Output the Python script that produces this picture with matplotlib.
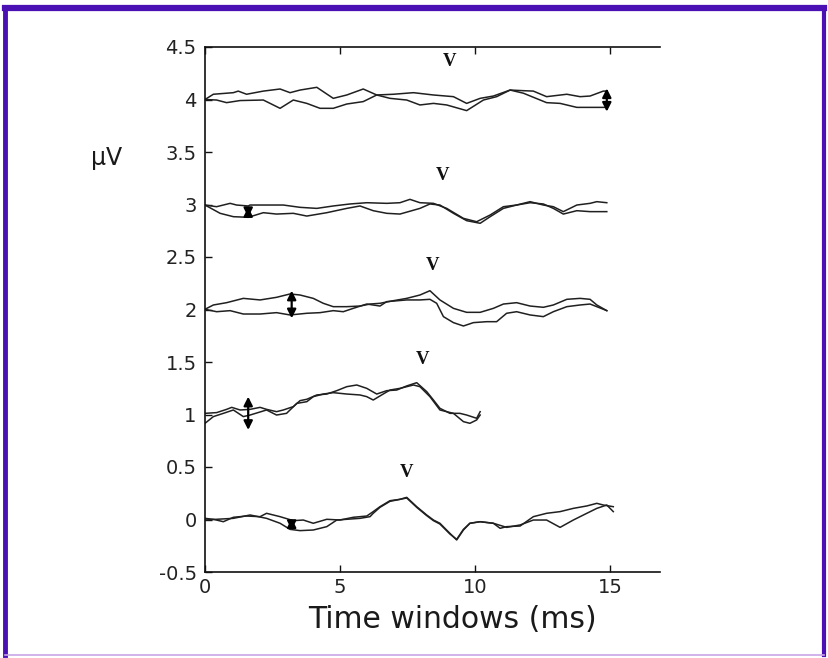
import matplotlib
matplotlib.use("Agg")
import matplotlib.pyplot as plt
from matplotlib.lines import Line2D

# ---------------- data ----------------
# trace at 4 uV
t4a_x = [0.0, 0.31, 1.05, 1.23, 1.54, 2.16, 2.78, 3.15, 3.52, 4.14, 4.75, 5.25, 5.86, 6.36, 6.98, 7.72,
         8.46, 9.20, 9.69, 10.19, 10.68, 11.30, 11.79, 12.16, 12.65, 13.40, 13.89, 14.26, 14.75, 14.88]
t4a_y = [4.00, 4.05, 4.065, 4.08, 4.05, 4.08, 4.10, 4.065, 4.09, 4.116, 4.011, 4.043, 4.10, 4.043, 4.05, 4.065,
         4.043, 4.027, 3.963, 4.011, 4.033, 4.09, 4.084, 4.08, 4.027, 4.05, 4.027, 4.033, 4.08, 4.08]
t4b_x = [0.0, 0.43, 0.80, 1.30, 2.16, 2.78, 3.27, 3.77, 4.26, 4.75, 5.25, 5.86, 6.36, 6.85, 7.47, 7.96,
         8.46, 8.95, 9.69, 10.31, 10.80, 11.30, 11.79, 12.65, 13.15, 13.77, 14.26, 14.75, 14.88]
t4b_y = [4.00, 3.995, 3.97, 3.99, 3.995, 3.916, 3.995, 3.963, 3.916, 3.916, 3.957, 3.98, 4.043, 4.011, 3.995, 3.948,
         3.963, 3.948, 3.894, 3.995, 4.027, 4.09, 4.06, 3.97, 3.963, 3.925, 3.925, 3.925, 3.925]

# trace at 3 uV
t3a_x = [0.0, 0.43, 0.93, 1.17, 1.60, 1.67, 2.90, 3.52, 4.14, 4.75, 5.37, 5.99, 6.73, 7.22, 7.59, 7.96,
         8.46, 8.95, 9.57, 10.06, 10.56, 11.05, 11.54, 12.04, 12.53, 12.90, 13.27, 13.77, 14.26, 14.51, 14.88]
t3a_y = [2.995, 2.979, 3.011, 2.995, 2.986, 2.995, 2.995, 2.973, 2.963, 2.986, 3.005, 3.017, 3.011, 3.017, 3.049, 3.017,
         3.011, 2.963, 2.868, 2.836, 2.900, 2.979, 2.995, 3.027, 2.995, 2.979, 2.932, 2.995, 3.011, 3.027, 3.017]
t3b_x = [0.0, 0.56, 1.05, 1.60, 2.16, 2.65, 3.27, 3.77, 4.51, 5.25, 5.74, 6.23, 6.73, 7.22, 7.96, 8.33,
         8.70, 9.20, 9.69, 10.19, 10.56, 11.05, 11.54, 12.04, 12.53, 12.90, 13.27, 13.77, 14.26, 14.88]
t3b_y = [2.995, 2.916, 2.884, 2.878, 2.922, 2.909, 2.916, 2.890, 2.922, 2.963, 2.986, 2.941, 2.916, 2.909, 2.963, 3.005,
         2.995, 2.916, 2.846, 2.821, 2.884, 2.963, 2.995, 3.017, 3.005, 2.963, 2.909, 2.941, 2.932, 2.932]

# trace at 2 uV
t2a_x = [0.0, 0.31, 0.80, 1.42, 2.04, 2.65, 3.15, 3.52, 4.01, 4.38, 4.75, 5.25, 5.74, 6.11, 6.48, 6.98, 7.47,
         7.96, 8.33, 8.70, 9.20, 9.69, 10.19, 10.68, 11.05, 11.54, 12.04, 12.53, 12.90, 13.40, 13.89, 14.26,
         14.51, 14.88]
t2a_y = [2.002, 2.043, 2.065, 2.106, 2.091, 2.116, 2.148, 2.138, 2.106, 2.059, 2.027, 2.027, 2.033, 2.052, 2.059,
         2.084, 2.106, 2.138, 2.179, 2.091, 2.011, 1.973, 1.973, 2.011, 2.052, 2.065, 2.033, 2.021, 2.043, 2.097,
         2.106, 2.097, 2.043, 1.989]
t2b_x = [0.0, 0.43, 0.93, 1.42, 2.04, 2.65, 3.15, 3.77, 4.26, 4.75, 5.12, 5.49, 5.99, 6.48, 6.73, 7.47, 7.96,
         8.33, 8.58, 8.83, 9.20, 9.57, 9.94, 10.43, 10.80, 11.17, 11.54, 12.04, 12.53, 12.90, 13.40, 13.89,
         14.26, 14.51, 14.88]
t2b_y = [2.002, 1.979, 1.989, 1.957, 1.957, 1.970, 1.948, 1.964, 1.970, 1.989, 1.979, 2.011, 2.052, 2.033, 2.075,
         2.091, 2.091, 2.097, 2.059, 1.932, 1.875, 1.843, 1.875, 1.884, 1.884, 1.964, 1.979, 1.948, 1.932, 1.979,
         2.027, 2.043, 2.052, 2.027, 1.989]

# trace at 1 uV
t1a_x = [0.0, 0.43, 0.80, 0.99, 1.30, 1.67, 2.04, 2.28, 2.65, 2.90, 3.27, 3.52, 3.77, 4.14, 4.51, 4.88, 5.25,
         5.62, 5.99, 6.36, 6.73, 7.10, 7.47, 7.84, 8.21, 8.46, 8.70, 9.07, 9.44, 9.69, 10.06, 10.19]
t1a_y = [1.011, 1.018, 1.049, 1.068, 1.043, 1.049, 1.068, 1.049, 1.027, 1.043, 1.075, 1.132, 1.145, 1.186, 1.195,
         1.227, 1.265, 1.281, 1.249, 1.195, 1.227, 1.233, 1.272, 1.303, 1.218, 1.138, 1.059, 1.011, 1.011, 0.995,
         0.964, 1.027]
t1b_x = [0.0, 0.31, 0.68, 1.05, 1.42, 1.67, 2.28, 2.65, 3.02, 3.40, 3.77, 4.01, 4.38, 4.75, 5.25, 5.74, 5.99,
         6.23, 6.54, 6.85, 7.22, 7.72, 7.96, 8.33, 8.70, 9.20, 9.57, 9.81, 10.06, 10.19]
t1b_y = [0.916, 0.980, 1.011, 1.043, 0.980, 0.995, 1.043, 0.995, 1.011, 1.106, 1.122, 1.170, 1.195, 1.208, 1.195,
         1.186, 1.170, 1.138, 1.186, 1.233, 1.249, 1.281, 1.265, 1.170, 1.043, 1.011, 0.932, 0.916, 0.948, 0.995]

# trace at 0 uV
t0a_x = [0.0, 0.31, 0.68, 1.05, 1.54, 2.04, 2.28, 2.78, 3.27, 3.64, 4.01, 4.51, 5.00, 5.49, 5.99, 6.23, 6.48,
         6.85, 7.22, 7.47, 7.84, 8.21, 8.46, 8.70, 9.07, 9.32, 9.57, 9.81, 10.19, 10.68, 10.93, 11.17, 11.67,
         12.16, 12.65, 13.15, 13.64, 14.14, 14.51, 14.75, 15.12]
t0a_y = [0.011, 0.002, -0.021, 0.021, 0.033, 0.027, 0.059, 0.027, -0.011, -0.005, -0.036, 0.002, -0.005, 0.021,
         0.033, 0.075, 0.122, 0.179, 0.192, 0.211, 0.122, 0.043, -0.005, -0.036, -0.132, -0.195, -0.100, -0.036,
         -0.021, -0.036, -0.084, -0.068, -0.062, 0.027, 0.059, 0.075, 0.106, 0.129, 0.154, 0.138, 0.122]
t0b_x = [0.0, 0.43, 1.05, 1.67, 2.28, 2.78, 3.15, 3.52, 4.01, 4.51, 4.88, 5.25, 5.74, 6.11, 6.23, 6.48, 6.85,
         7.22, 7.47, 7.84, 8.21, 8.46, 8.70, 9.07, 9.32, 9.57, 9.81, 10.19, 10.68, 11.17, 11.67, 12.16, 12.65,
         13.15, 13.64, 14.14, 14.51, 14.88, 15.12]
t0b_y = [-0.005, 0.002, 0.011, 0.043, 0.011, -0.036, -0.094, -0.106, -0.100, -0.068, -0.005, 0.002, 0.011, 0.027,
         0.059, 0.116, 0.173, 0.192, 0.205, 0.116, 0.037, -0.011, -0.043, -0.138, -0.189, -0.094, -0.036, -0.021,
         -0.036, -0.075, -0.052, -0.005, -0.005, -0.075, -0.005, 0.059, 0.106, 0.138, 0.075]

# wave V labels
v_x = [9.07, 8.81, 8.41, 8.07, 7.48]
v_y = [4.36, 3.28, 2.42, 1.52, 0.45]
v_text = ["V", "V", "V", "V", "V"]

# double arrows (x, y_top, y_bottom)
arrow_x = [14.88, 1.60, 3.21, 1.60, 3.21]
arrow_top = [4.106, 2.975, 2.180, 1.170, 0.011]
arrow_bot = [3.884, 2.880, 1.916, 0.853, -0.100]

y_ticks = [-0.5, 0, 0.5, 1, 1.5, 2, 2.5, 3, 3.5, 4, 4.5]
y_ticklabels = ["-0.5", "0", "0.5", "1", "1.5", "2", "2.5", "3", "3.5", "4", "4.5"]
x_ticks = [0, 5, 10, 15]
x_ticklabels = ["0", "5", "10", "15"]
x_label = "Time windows (ms)"
y_label = "\u00b5V"

# ---------------- figure ----------------
W, H = 829, 658
fig = plt.figure(figsize=(W / 100, H / 100), dpi=100)
fig.patch.set_facecolor("white")

ax = fig.add_axes([205 / W, 1 - 572 / H, (660 - 205) / W, (572 - 47) / H])
traces = [(t4a_x, t4a_y), (t4b_x, t4b_y), (t3a_x, t3a_y), (t3b_x, t3b_y),
          (t2a_x, t2a_y), (t2b_x, t2b_y), (t1a_x, t1a_y), (t1b_x, t1b_y),
          (t0a_x, t0a_y), (t0b_x, t0b_y)]
for xs, ys in traces:
    ax.plot(xs, ys, color="#202020", lw=1.1)

for x, y, s in zip(v_x, v_y, v_text):
    ax.text(x, y, s, ha="center", va="center", fontsize=13.5, fontweight="bold",
            family="Liberation Serif", color="#111111")

for x, y1, y0 in zip(arrow_x, arrow_top, arrow_bot):
    ax.annotate("", xy=(x, y1), xytext=(x, y0),
                arrowprops=dict(arrowstyle="<|-|>", color="black", lw=1.6,
                                mutation_scale=13, shrinkA=0, shrinkB=0))

ax.set_xlim(0, 16.85)
ax.set_ylim(-0.5, 4.5)
ax.set_xticks(x_ticks)
ax.set_xticklabels(x_ticklabels)
ax.set_yticks(y_ticks)
ax.set_yticklabels(y_ticklabels)
ax.spines["right"].set_visible(False)
for sp in ["left", "bottom", "top"]:
    ax.spines[sp].set_linewidth(1.2)
    ax.spines[sp].set_color("#111111")
ax.tick_params(direction="in", length=5, width=1.0, top=True, right=False,
               labelsize=14, pad=4, colors="#111111")
ax.tick_params(axis="y", pad=6)
for lab in ax.get_xticklabels() + ax.get_yticklabels():
    lab.set_family("DejaVu Sans")
    lab.set_color("#222222")

fig.text(452 / W, 1 - 620 / H, x_label, ha="center", va="center", fontsize=21.5,
         family="DejaVu Sans", color="#1a1a1a")
fig.text(107 / W, 1 - 158 / H, y_label, ha="center", va="center", fontsize=17,
         family="DejaVu Sans", color="#1a1a1a")

# outer frame
purple = "#4a10b4"
fig.add_artist(Line2D([5.5 / W, 5.5 / W], [1 - 8 / H, 1 - 655 / H], color=purple, lw=3.5, transform=fig.transFigure))
fig.add_artist(Line2D([5.5 / W, 824 / W], [1 - 8 / H, 1 - 8 / H], color=purple, lw=4.5, transform=fig.transFigure))
fig.add_artist(Line2D([824 / W, 824 / W], [1 - 8 / H, 1 - 655 / H], color=purple, lw=3, transform=fig.transFigure))
fig.add_artist(Line2D([5.5 / W, 824 / W], [1 - 655 / H, 1 - 655 / H], color="#c8a6e6", lw=1.2, transform=fig.transFigure))

fig.savefig("out.png", dpi=100)
